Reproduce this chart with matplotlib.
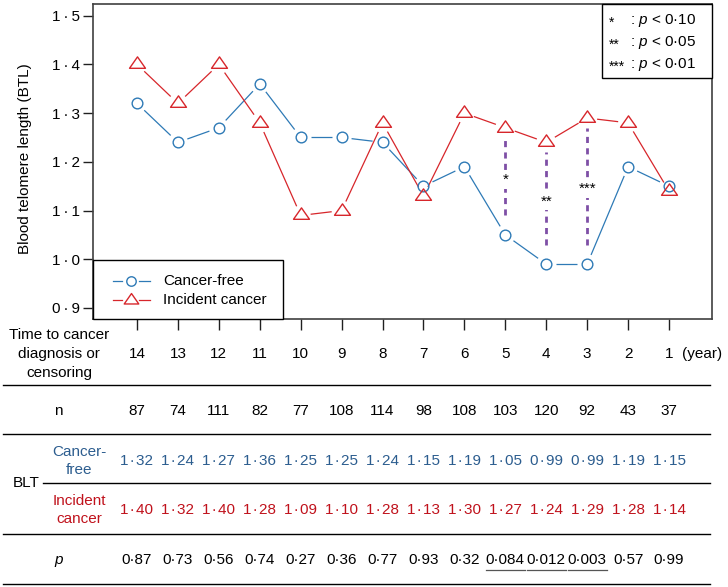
import numpy as np
import matplotlib
matplotlib.use("Agg")
import matplotlib.pyplot as plt
import matplotlib.transforms as mtransforms
from matplotlib.lines import Line2D
from matplotlib.patches import Rectangle
from matplotlib.path import Path

# ---------------- data ----------------
years = [14, 13, 12, 11, 10, 9, 8, 7, 6, 5, 4, 3, 2, 1]
n_obs = [87, 74, 111, 82, 77, 108, 114, 98, 108, 103, 120, 92, 43, 37]
btl_free = [1.32, 1.24, 1.27, 1.36, 1.25, 1.25, 1.24, 1.15, 1.19, 1.05, 0.99, 0.99, 1.19, 1.15]
btl_cancer = [1.40, 1.32, 1.40, 1.28, 1.09, 1.10, 1.28, 1.13, 1.30, 1.27, 1.24, 1.29, 1.28, 1.14]
p_values = [0.87, 0.73, 0.56, 0.74, 0.27, 0.36, 0.77, 0.93, 0.32, 0.084, 0.012, 0.003, 0.57, 0.99]
sig_years = [5, 4, 3]
sig_stars = ["*", "**", "***"]
y_ticks = [0.9, 1.0, 1.1, 1.2, 1.3, 1.4, 1.5]
sig_legend = [("*", "0·10"), ("**", "0·05"), ("***", "0·01")]

# ---------------- style ----------------
plt.rcParams["font.family"] = ["Liberation Sans", "DejaVu Sans"]
plt.rcParams["mathtext.fontset"] = "custom"
plt.rcParams["mathtext.rm"] = "Liberation Sans"
plt.rcParams["mathtext.it"] = "Liberation Sans:italic"
FS = 11
BLUE = "#2e7ab6"
RED = "#d7262b"
TBLUE = "#2c5d8f"
TRED = "#c0121c"
PURPLE = "#7e4fa6"
HS = "\u200a"  # hair space around the middle dot

W, H = 728, 587
fig = plt.figure(figsize=(W / 100, H / 100), dpi=100)


def fx(px):
    return px / W


def fy(py):
    return 1 - py / H


def dot(s, sp=HS):
    return s.replace(".", sp + "·" + sp)


ax = fig.add_axes([fx(93), fy(319), fx(712) - fx(93), fy(4) - fy(319)])
x = np.arange(len(years))
ax.set_xlim(-1.075, 14.05)
ax.set_ylim(0.8774, 1.524)

for sp in ax.spines.values():
    sp.set_color("#404040")
    sp.set_linewidth(1.2)

ax.set_yticks(y_ticks)
ax.set_yticklabels([dot(f"{v:.1f}", "\u2009") for v in y_ticks], fontsize=FS)
ax.tick_params(axis="y", length=7.5, width=1, pad=1.5, color="#202020")
ax.set_xticks(x)
ax.set_xticklabels([])
ax.tick_params(axis="x", length=8, width=1, color="#202020")

fig.text(fx(25), fy(159), "Blood telomere length (BTL)", rotation=90,
         ha="center", va="center", fontsize=FS)

# triangle marker with centroid at the data point
tri = Path([(-1, -0.477), (1, -0.477), (0, 0.953), (-1, -0.477)],
           [Path.MOVETO, Path.LINETO, Path.LINETO, Path.CLOSEPOLY])


def gapped_line(xs, ys, color, gap=10.0):
    pts = ax.transData.transform(np.column_stack([xs, ys]))
    inv = ax.transData.inverted()
    for p0, p1 in zip(pts[:-1], pts[1:]):
        d = p1 - p0
        L = np.hypot(*d)
        if L <= 2 * gap:
            continue
        u = d / L
        a = inv.transform(p0 + u * gap)
        b = inv.transform(p1 - u * gap)
        ax.plot([a[0], b[0]], [a[1], b[1]], color=color, lw=0.9,
                solid_capstyle="butt")


gapped_line(x, btl_free, BLUE)
gapped_line(x, btl_cancer, RED)
ax.plot(x, btl_free, linestyle="none", marker="o", ms=7.7, mfc="none",
        mec=BLUE, mew=1.0)
ax.plot(x, btl_cancer, linestyle="none", marker=tri, ms=11.5, mfc="none",
        mec=RED, mew=1.0)

# significance dashed lines
for yr, st in zip(sig_years, sig_stars):
    i = years.index(yr)
    top = btl_cancer[i] - 0.02
    bot = btl_free[i] + 0.04
    ax.plot([i, i], [bot, top], color=PURPLE, lw=2.0,
            linestyle=(0, (2.2, 1.9)))
    ax.text(i, (top + bot) / 2 - 0.006, st, ha="center", va="center",
            fontsize=FS, bbox=dict(fc="white", ec="none", pad=1.5))

# legend box (bottom-left)
fig.add_artist(Rectangle((fx(93), fy(319)), fx(283) - fx(93), fy(260) - fy(319),
                         transform=fig.transFigure, fc="white", ec="black", lw=1.0))
for yy, col, mk, ms, lab in [(281, BLUE, "o", 6.8, "Cancer-free"),
                             (300, RED, tri, 10.5, "Incident cancer")]:
    for xa, xb in [(113, 122), (139, 150)]:
        fig.add_artist(Line2D([fx(xa), fx(xb)], [fy(yy), fy(yy)],
                              transform=fig.transFigure, color=col, lw=0.9))
    fig.add_artist(Line2D([fx(130.5)], [fy(yy)], transform=fig.transFigure,
                          linestyle="none", marker=mk, ms=ms, mfc="none",
                          mec=col, mew=1.0))
    fig.text(fx(163), fy(yy), lab, ha="left", va="center", fontsize=FS)

# significance legend box (top-right)
fig.add_artist(Rectangle((fx(602), fy(78)), fx(712) - fx(602), fy(4) - fy(78),
                         transform=fig.transFigure, fc="white", ec="black", lw=1.0))
for k, (st, thr) in enumerate(sig_legend):
    yy = [20.7, 42.7, 64.3][k]
    fig.text(fx(609), fy(yy + 2.5), st, ha="left", va="center", fontsize=10)
    fig.text(fx(630), fy(yy), ": $p$ < " + dot(thr), ha="left", va="center", fontsize=FS)

# ---------------- table ----------------
tr = mtransforms.blended_transform_factory(ax.transData, fig.transFigure)

for yy, s in [(335, "Time to cancer"), (354, "diagnosis or"), (373, "censoring")]:
    fig.text(fx(59), fy(yy), s, ha="center", va="center", fontsize=FS)
for i, yr in enumerate(years):
    ax.text(i, fy(354), str(yr), transform=tr, ha="center", va="center", fontsize=FS)
fig.text(fx(682), fy(354), "(year)", ha="left", va="center", fontsize=FS)

for yy in [385, 434, 534, 584]:
    fig.add_artist(Line2D([fx(3), fx(710)], [fy(yy), fy(yy)],
                          transform=fig.transFigure, color="black", lw=1.0))
fig.add_artist(Line2D([fx(43), fx(710)], [fy(483), fy(483)],
                      transform=fig.transFigure, color="black", lw=1.0))

fig.text(fx(58), fy(411), "n", ha="center", va="center", fontsize=FS)
for i, v in enumerate(n_obs):
    ax.text(i, fy(411), str(v), transform=tr, ha="center", va="center", fontsize=FS)

fig.text(fx(26), fy(483), "BLT", ha="center", va="center", fontsize=FS)
fig.text(fx(79), fy(452), "Cancer-", ha="center", va="center", fontsize=FS, color=TBLUE)
fig.text(fx(79), fy(470), "free", ha="center", va="center", fontsize=FS, color=TBLUE)
fig.text(fx(79), fy(501), "Incident", ha="center", va="center", fontsize=FS, color=TRED)
fig.text(fx(79), fy(519), "cancer", ha="center", va="center", fontsize=FS, color=TRED)
for i, v in enumerate(btl_free):
    ax.text(i, fy(461), dot(f"{v:.2f}"), transform=tr, ha="center", va="center",
            fontsize=FS, color=TBLUE)
for i, v in enumerate(btl_cancer):
    ax.text(i, fy(510), dot(f"{v:.2f}"), transform=tr, ha="center", va="center",
            fontsize=FS, color=TRED)

fig.text(fx(59), fy(560), "p", ha="center", va="center", fontsize=FS, style="italic")
p_texts = []
for i, v in enumerate(p_values):
    p_texts.append(ax.text(i, fy(560), dot(f"{v:g}", ""), transform=tr, ha="center",
                           va="center", fontsize=FS))

fig.canvas.draw()
for yr in sig_years:
    i = years.index(yr)
    bb = p_texts[i].get_window_extent()
    fig.add_artist(Line2D([bb.x0 / W, bb.x1 / W], [fy(569.5), fy(569.5)],
                          transform=fig.transFigure, color="#555555", lw=0.9))

fig.savefig("out.png", dpi=100)
